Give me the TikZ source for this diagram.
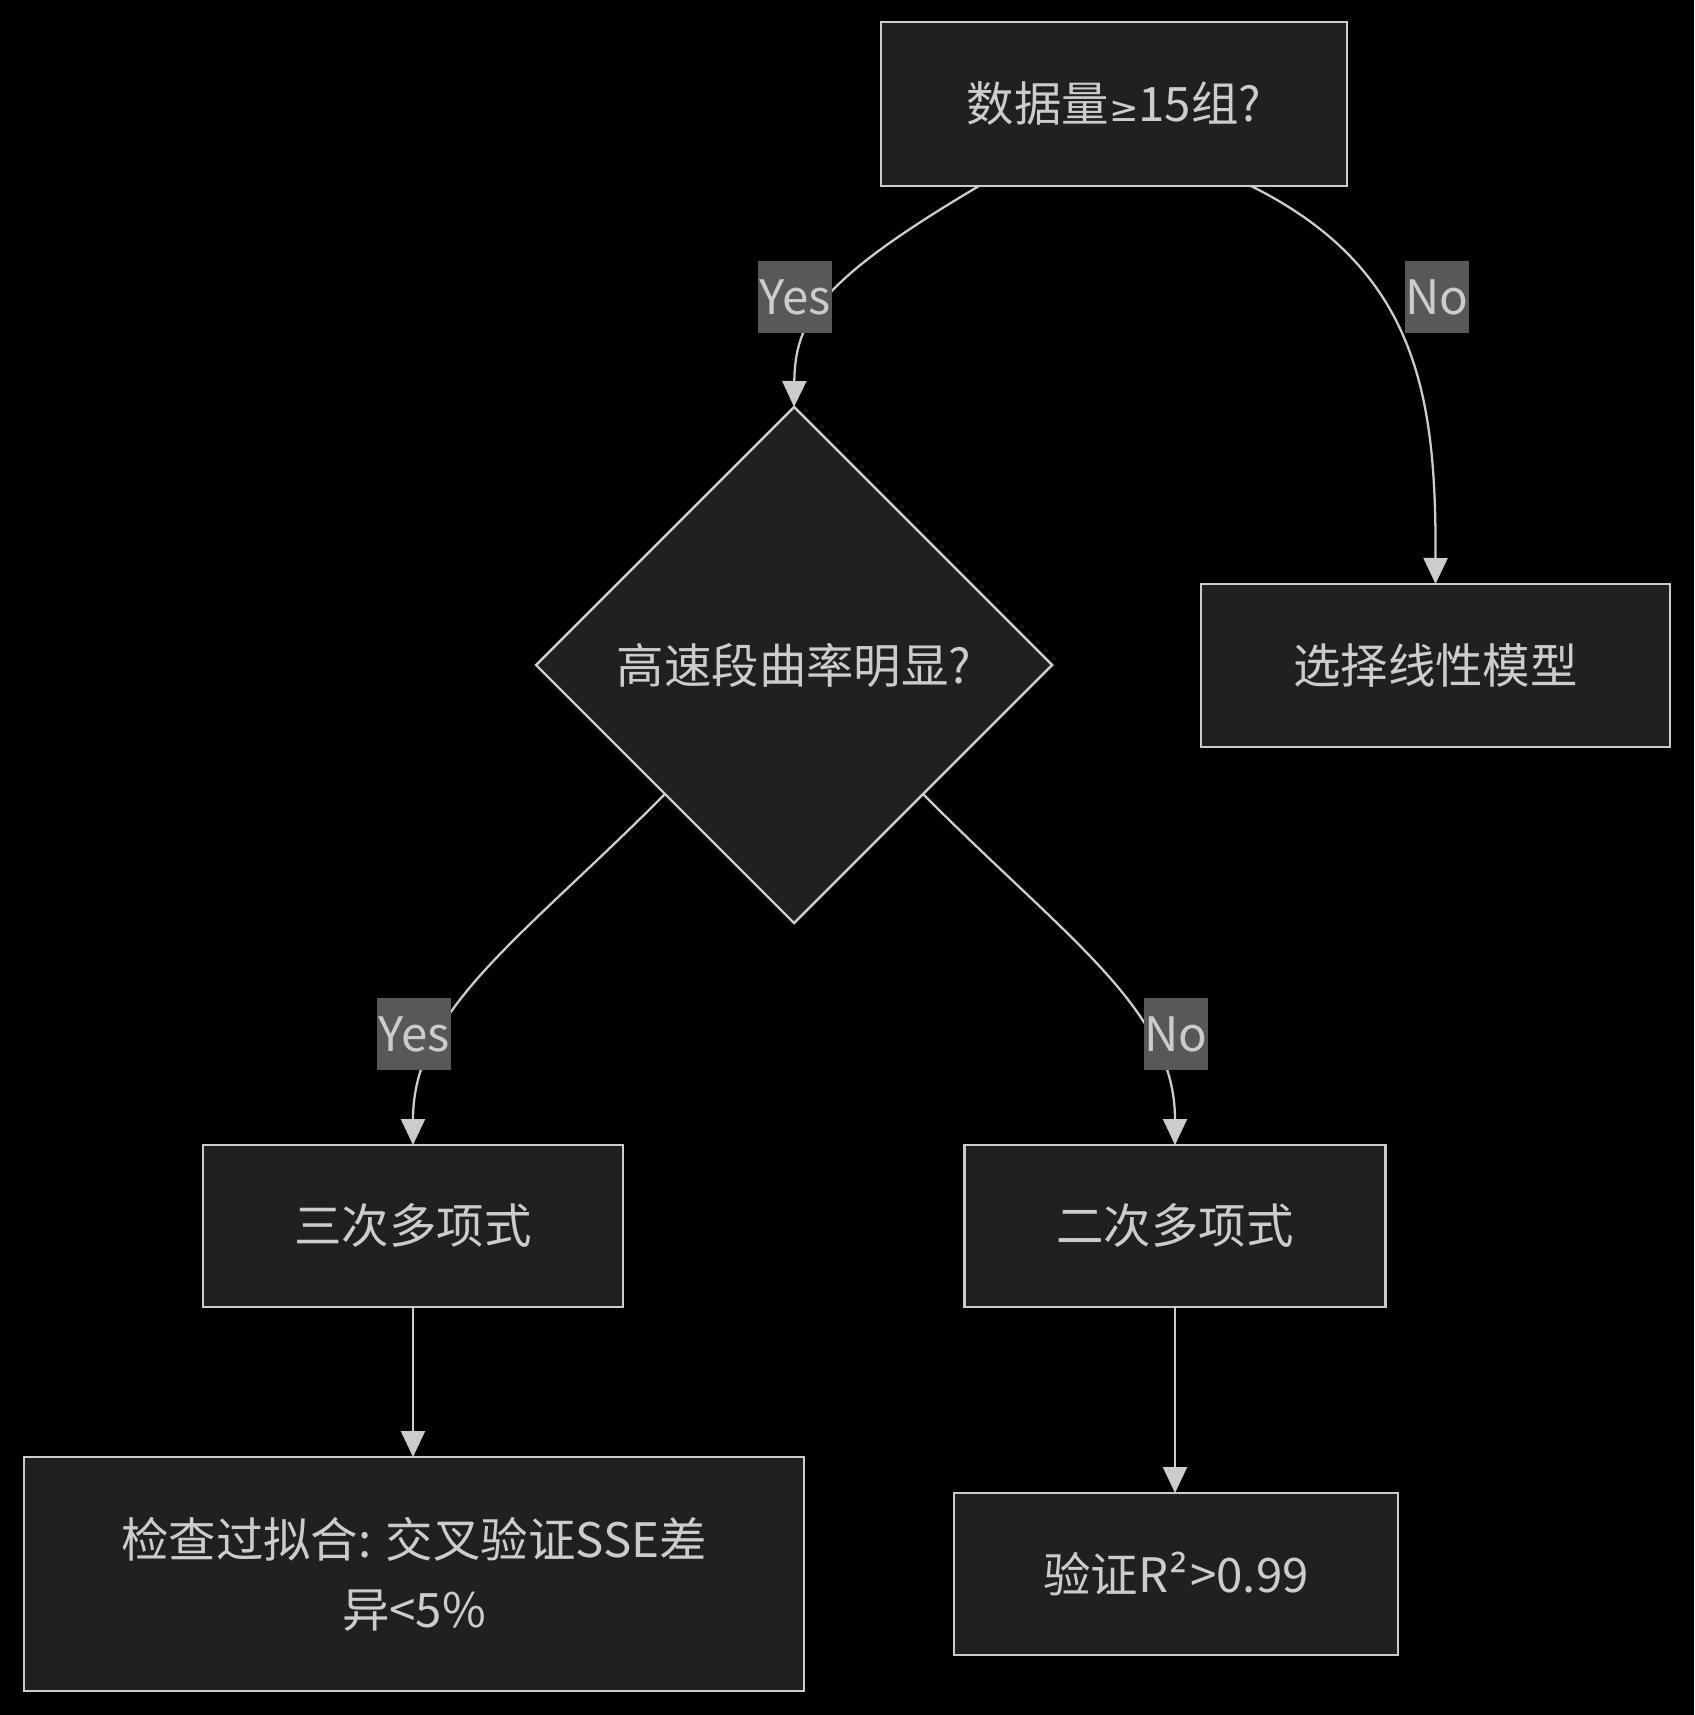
\documentclass[tikz,border=0pt]{standalone}
\usepackage{fontspec}
\setmainfont{Noto Sans CJK SC}
\newfontfamily\symfont{Noto Sans}
\newfontfamily\relfont{DejaVu Sans}
\usetikzlibrary{arrows.meta,shapes.geometric}
\definecolor{nodefill}{HTML}{1F2020}
\definecolor{nodeline}{HTML}{CCCCCC}
\definecolor{labelfill}{HTML}{585858}
\tikzset{
	box/.style={draw=nodeline, fill=nodefill, line width=1.4pt, text=nodeline, inner sep=0pt, outer sep=0pt, align=center, font=\fontsize{27}{40}\selectfont},
	decision/.style={box, diamond, aspect=1},
	edgelabel/.style={fill=labelfill, text=nodeline, inner xsep=0.5pt, inner ysep=0pt, minimum height=1.44cm, font=\fontsize{27}{32}\selectfont},
	flow/.style={draw=nodeline, line width=1.3pt, -{Triangle[length=0.52cm,width=0.48cm]}}
}

\begin{document}
\begin{tikzpicture}
			%%%%% START %%%%%
			
			\fill[black] (0, 0) rectangle (33.88, -34.30);
			\useasboundingbox (0, 0) rectangle (33.88, -34.30);
			
			\node[box, minimum width=9.32cm, minimum height=3.28cm] (enough) at (22.28, -2.08) {数据量{\relfont\fontsize{20}{24}\selectfont ≥}15组?};
			\node[decision, minimum width=10.32cm, minimum height=10.32cm] (curv) at (15.88, -13.30) {高速段曲率明显?};
			\node[box, minimum width=9.38cm, minimum height=3.26cm] (linear) at (28.71, -13.31) {选择线性模型};
			
			\node[box, minimum width=8.40cm, minimum height=3.24cm] (cubic) at (8.26, -24.52) {三次多项式};
			\node[box, minimum width=8.42cm, minimum height=3.24cm] (quad) at (23.50, -24.52) {二次多项式};
			
			\node[box, minimum width=15.60cm, minimum height=4.68cm] (overfit) at (8.28, -31.48) {检查过拟合: 交叉验证SSE差\\异<5\%};
			\node[box, minimum width=8.88cm, minimum height=3.24cm] (rsq) at (23.52, -31.48) {验证R{\symfont\kern1pt²\kern2pt}>0.99};
			
			\draw[flow] ([xshift=-2.70cm]enough.south) .. controls (16.40, -5.60) and (15.90, -6.40) .. (curv.north);
			\draw[flow] ([xshift=2.74cm]enough.south) .. controls (28.40, -5.40) and (28.72, -8.00) .. (linear.north);
			
			\draw[flow] (curv.south west) .. controls (10.40, -18.80) and (8.26, -20.20) .. (cubic.north);
			\draw[flow] (curv.south east) .. controls (21.36, -18.80) and (23.50, -20.20) .. (quad.north);
			
			\draw[flow] (cubic.south) -- (cubic.south |- overfit.north);
			\draw[flow] (quad.south) -- (quad.south |- rsq.north);
			
			\node[edgelabel] (yes1) at (15.90, -5.94) {Yes};
			\node[edgelabel] (no1) at (28.74, -5.94) {No};
			\node[edgelabel] (yes2) at (8.28, -20.68) {Yes};
			\node[edgelabel] (no2) at (23.52, -20.68) {No};
			
			%%%%% END %%%%%
		\end{tikzpicture}
\end{document}
